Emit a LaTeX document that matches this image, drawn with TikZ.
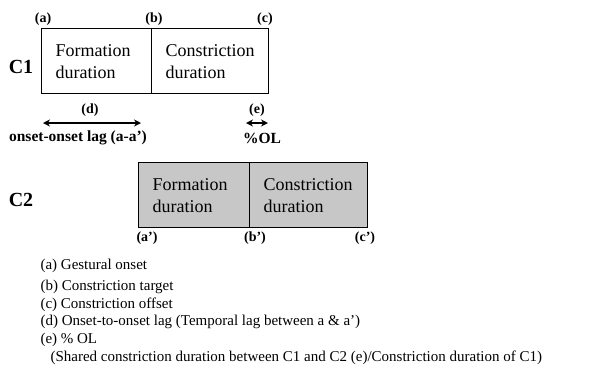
\documentclass[tikz,border=0pt]{standalone}
\usepackage{fontspec}
\setmainfont{Liberation Serif}
\usetikzlibrary{arrows.meta,positioning}

\tikzset{
	seg/.style={draw=black,line width=1.3pt,minimum height=65bp,inner xsep=14bp,
		anchor=north west,align=left,font=\fontsize{18bp}{22bp}\selectfont},
	pt/.style={font=\bfseries\fontsize{14bp}{16bp}\selectfont},
	cname/.style={font=\bfseries\fontsize{20bp}{22bp}\selectfont},
	lagtext/.style={font=\bfseries\fontsize{15.5bp}{17bp}\selectfont},
	note/.style={anchor=west,font=\fontsize{15bp}{17bp}\selectfont},
	lag/.style={line width=2pt,{Stealth[length=7bp,width=7bp]}-{Stealth[length=7bp,width=7bp]}}
}

\begin{document}
\begin{tikzpicture}[x=1bp,y=-1bp]
		\useasboundingbox (0,0) rectangle (597,387);

		% C1
		\node[seg,minimum width=110bp,text width=82bp] (f1) at (41,28) {Formation\\duration};
		\node[seg,minimum width=117bp,text width=89bp] (k1) at (151,28) {Constriction\\duration};
		\node[cname] (c1) at (21,67) {C1};
		\node[pt] (a) at (43,19) {(a)};
		\node[pt] (b) at (154,19) {(b)};
		\node[pt] (c) at (265,19) {(c)};

		% lags
		\coordinate (d0) at (43,123);
		\coordinate (d1) at (141,123);
		\coordinate (e0) at (246,123);
		\coordinate (e1) at (268,123);
		\draw[lag] (d0) -- (d1);
		\draw[lag] (e0) -- (e1);
		\node[pt] (d) at (90,110) {(d)};
		\node[pt] (e) at (257,110) {(e)};
		\node[lagtext] (dtext) at (78,138) {onset-onset lag (a-a’)};
		\node[lagtext] (etext) at (262,138) {\%OL};

		% C2
		\node[seg,fill=black!22,minimum width=111bp,text width=83bp] (f2) at (138,162) {Formation\\duration};
		\node[seg,fill=black!22,minimum width=118bp,text width=90bp,inner xsep=12bp] (k2) at (249,162) {Constriction\\duration};
		\node[cname] (c2) at (21,200) {C2};
		\node[pt] (a2) at (147,238) {(a’)};
		\node[pt] (b2) at (255,238) {(b’)};
		\node[pt] (c2p) at (365,238) {(c’)};

		% notes
		\node[note] (n1) at (37,266) {(a) Gestural onset};
		\node[note] (n2) at (37,287) {(b) Constriction target};
		\node[note] (n3) at (37,305) {(c) Constriction offset};
		\node[note] (n4) at (37,322) {(d) Onset-to-onset lag (Temporal lag between a \& a’)};
		\node[note] (n5) at (37,340) {(e) \% OL};
		\node[note] (n6) at (47,358) {(Shared constriction duration between C1 and C2 (e)/Constriction duration of C1)};
	\end{tikzpicture}
\end{document}
